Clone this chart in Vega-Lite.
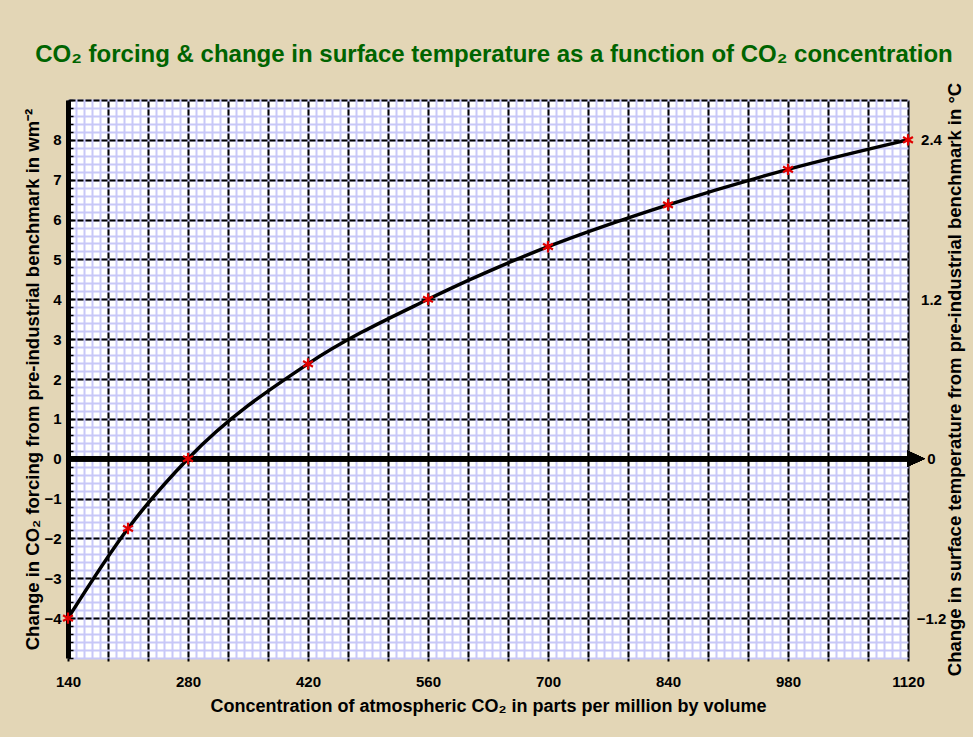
{
  "$schema": "https://vega.github.io/schema/vega-lite/v6.json",
  "width": 840,
  "height": 558,
  "autosize": {"type": "none"},
  "padding": {"left": 68, "top": 100, "right": 65, "bottom": 79},
  "background": "#E3D6B6",
  "config": {"view": {"fill": "white", "stroke": null}, "font": "Liberation Sans"},
  "title": {
    "text": "CO₂ forcing & change in surface temperature as a function of CO₂ concentration",
    "color": "#006400",
    "fontSize": 24,
    "font": "Liberation Sans",
    "fontWeight": "bold",
    "anchor": "middle",
    "baseline": "alphabetic",
    "offset": -4,
    "dx": 6
  },
  "data": {
    "values": [
      {"ppm": 140, "forcing": -4.0},
      {"ppm": 210, "forcing": -1.75},
      {"ppm": 280, "forcing": 0.0},
      {"ppm": 420, "forcing": 2.38},
      {"ppm": 560, "forcing": 4.0},
      {"ppm": 700, "forcing": 5.32},
      {"ppm": 840, "forcing": 6.37},
      {"ppm": 980, "forcing": 7.26},
      {"ppm": 1120, "forcing": 8.0}
    ]
  },
  "resolve": {"axis": {"x": "independent", "y": "independent"}},
  "layer": [
    {
      "mark": {"type": "line", "color": "black", "strokeWidth": 3.5, "interpolate": "monotone"},
      "encoding": {
        "x": {
          "field": "ppm", "type": "quantitative",
          "scale": {"domain": [140, 1120], "nice": false, "zero": false},
          "axis": {
            "orient": "bottom", "title": null, "labels": false, "ticks": false, "domain": false,
            "grid": true, "gridColor": "#C8C8F8", "gridWidth": 2, "gridOpacity": 1,
            "values": [140,149.33,158.67,168,177.33,186.67,196,205.33,214.67,224,233.33,242.67,252,261.33,270.67,280,289.33,298.67,308,317.33,326.67,336,345.33,354.67,364,373.33,382.67,392,401.33,410.67,420,429.33,438.67,448,457.33,466.67,476,485.33,494.67,504,513.33,522.67,532,541.33,550.67,560,569.33,578.67,588,597.33,606.67,616,625.33,634.67,644,653.33,662.67,672,681.33,690.67,700,709.33,718.67,728,737.33,746.67,756,765.33,774.67,784,793.33,802.67,812,821.33,830.67,840,849.33,858.67,868,877.33,886.67,896,905.33,914.67,924,933.33,942.67,952,961.33,970.67,980,989.33,998.67,1008,1017.33,1026.67,1036,1045.33,1054.67,1064,1073.33,1082.67,1092,1101.33,1110.67,1120]
          }
        },
        "y": {
          "field": "forcing", "type": "quantitative",
          "scale": {"domain": [-5, 9], "nice": false, "zero": false},
          "axis": {
            "orient": "left", "title": null, "labels": false, "ticks": true, "tickSize": -5,
            "tickColor": "black", "tickWidth": 1.5, "domain": false,
            "grid": true, "gridColor": "#C8C8F8", "gridWidth": 2, "gridOpacity": 1,
            "values": [-5,-4.8,-4.6,-4.4,-4.2,-4,-3.8,-3.6,-3.4,-3.2,-3,-2.8,-2.6,-2.4,-2.2,-2,-1.8,-1.6,-1.4,-1.2,-1,-0.8,-0.6,-0.4,-0.2,0,0.2,0.4,0.6,0.8,1,1.2,1.4,1.6,1.8,2,2.2,2.4,2.6,2.8,3,3.2,3.4,3.6,3.8,4,4.2,4.4,4.6,4.8,5,5.2,5.4,5.6,5.8,6,6.2,6.4,6.6,6.8,7,7.2,7.4,7.6,7.8,8,8.2,8.4,8.6,8.8,9]
          }
        }
      }
    },
    {
      "mark": {"type": "rule", "color": "black", "strokeWidth": 5},
      "encoding": {
        "y": {
          "datum": 0, "type": "quantitative",
          "scale": {"domain": [-5, 9], "nice": false, "zero": false},
          "axis": {
            "orient": "left", "title": null, "labels": false, "ticks": false, "domain": false,
            "grid": true, "gridColor": "black", "gridWidth": 2, "gridOpacity": 1,
            "gridDash": [6, 2], "gridDashOffset": 7,
            "values": [-4,-3,-2,-1,0,1,2,3,4,5,6,7,8,9]
          }
        }
      }
    },
    {
      "mark": {
        "type": "point",
        "shape": "M0,-1L0,1M-0.87,-0.5L0.87,0.5M-0.87,0.5L0.87,-0.5",
        "stroke": "#E00000", "strokeWidth": 2.2, "size": 130, "filled": false, "opacity": 1
      },
      "encoding": {
        "x": {
          "field": "ppm", "type": "quantitative",
          "scale": {"domain": [140, 1120], "nice": false, "zero": false},
          "axis": {
            "orient": "bottom", "title": null, "labels": false,
            "ticks": true, "tickSize": 3, "tickColor": "black", "tickWidth": 2, "domain": false,
            "grid": true, "gridColor": "black", "gridWidth": 2, "gridOpacity": 1,
            "values": [140,186.67,233.33,280,326.67,373.33,420,466.67,513.33,560,606.67,653.33,700,746.67,793.33,840,886.67,933.33,980,1026.67,1073.33,1120]
          }
        },
        "y": {
          "field": "forcing", "type": "quantitative",
          "scale": {"domain": [-5, 9], "nice": false, "zero": false},
          "axis": {
            "orient": "left",
            "title": "Change in CO₂ forcing from pre-industrial benchmark in wm⁻²",
            "titleFont": "Liberation Sans", "titleFontSize": 18.5, "titleFontWeight": "bold", "titleColor": "black",
            "titlePadding": 1,
            "labelFont": "Liberation Sans", "labelFontSize": 15, "labelFontWeight": "bold", "labelColor": "black",
            "labelPadding": 7, "labelFlush": false, "labelOverlap": false,
            "ticks": false, "domain": true, "domainColor": "black", "domainWidth": 5,
            "grid": false,
            "values": [-4,-3,-2,-1,0,1,2,3,4,5,6,7,8]
          }
        }
      }
    },
    {
      "mark": {
        "type": "point",
        "shape": "M-1,-0.9L1,0L-1,0.9Z",
        "filled": true, "color": "black", "size": 324, "opacity": 1, "xOffset": 8
      },
      "encoding": {
        "x": {
          "datum": 1120, "type": "quantitative",
          "scale": {"domain": [140, 1120], "nice": false, "zero": false},
          "axis": {
            "orient": "bottom",
            "title": "Concentration of atmospheric CO₂ in parts per million by volume",
            "titleFont": "Liberation Sans", "titleFontSize": 18, "titleFontWeight": "bold", "titleColor": "black",
            "titlePadding": 8,
            "labelFont": "Liberation Sans", "labelFontSize": 15, "labelFontWeight": "bold", "labelColor": "black",
            "labelPadding": 16, "labelFlush": false, "labelOverlap": false, "format": "d",
            "ticks": false, "domain": false, "grid": false,
            "values": [140,280,420,560,700,840,980,1120]
          }
        },
        "y": {
          "datum": 0, "type": "quantitative",
          "scale": {"domain": [-5, 9], "nice": false, "zero": false},
          "axis": {
            "orient": "right",
            "title": "Change in surface temperature from pre-industrial benchmark in °C",
            "titleFont": "Liberation Sans", "titleFontSize": 18.5, "titleFontWeight": "bold", "titleColor": "black",
            "titleAngle": 270, "titleBaseline": "top", "titlePadding": 0,
            "labelFont": "Liberation Sans", "labelFontSize": 15, "labelFontWeight": "bold", "labelColor": "black",
            "labelAlign": "center", "labelPadding": 23, "labelFlush": false, "labelOverlap": false,
            "ticks": false, "domain": false, "grid": false,
            "values": [-4,0,4,8],
            "labelExpr": "datum.value == 0 ? '0' : format(datum.value * 0.3, '.1f')"
          }
        }
      }
    }
  ]
}
